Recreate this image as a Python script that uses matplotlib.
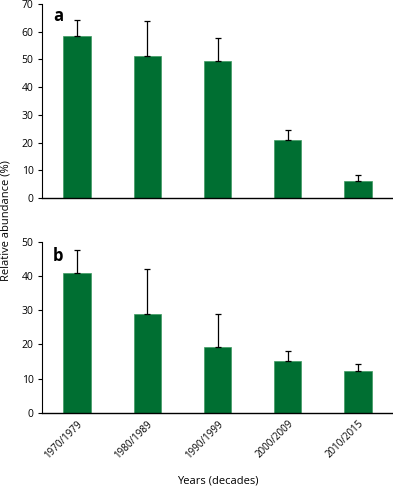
import numpy as np
import matplotlib.pyplot as plt

decades = ['1970/1979', '1980/1989', '1990/1999', '2000/2009', '2010/2015']
vals_a = [58.4, 51.4, 49.5, 20.8, 6.2]
err_a = [5.9, 12.3, 8.3, 3.6, 2.2]
vals_b = [41.0, 29.0, 19.2, 15.3, 12.3]
err_b = [6.5, 13.1, 9.7, 2.9, 1.9]

green = '#006F32'
plt.rcParams['font.family'] = ['Open Sans', 'DejaVu Sans']

fig = plt.figure(figsize=(3.93, 4.86), dpi=100)
ax1 = fig.add_axes([42 / 393, 0.5926, 1 - 42 / 393, 0.3992])
ax2 = fig.add_axes([42 / 393, 0.1502, 1 - 42 / 393, 0.3525])

x = np.arange(len(decades))
for ax, v, e, top, step, lab in [(ax1, vals_a, err_a, 70, 10, 'a'), (ax2, vals_b, err_b, 50, 10, 'b')]:
    ax.bar(x, v, width=0.39, color=green, edgecolor='#3d9a60', linewidth=0.5)
    ax.errorbar(x, v, yerr=[np.zeros(len(v)), e], fmt='none', ecolor='black',
                elinewidth=0.9, capsize=2.5, capthick=0.9)
    ax.set_xlim(-0.5, 4.5)
    ax.set_ylim(0, top)
    ax.set_yticks(np.arange(0, top + 1, step))
    ax.tick_params(axis='y', labelsize=7.5, length=3, width=0.8, direction='out', pad=3)
    ax.spines['top'].set_visible(False)
    ax.spines['right'].set_visible(False)
    ax.spines['left'].set_linewidth(0.8)
    ax.spines['bottom'].set_linewidth(1.0)
    ax.text(0.032, 0.985 if lab == 'a' else 0.97, lab, transform=ax.transAxes,
            fontsize=12, fontweight='bold', va='top', ha='left')

ax1.set_xticks([])
ax2.set_xticks(x)
ax2.set_xticklabels(decades, rotation=45, ha='right', rotation_mode='anchor', fontsize=7)
ax2.tick_params(axis='x', length=0, pad=4)
ax2.set_xlabel('Years (decades)', fontsize=8, labelpad=11)
fig.text(0.016, 0.547, 'Relative abundance (%)', rotation=90, ha='center', va='center', fontsize=8)

fig.savefig('out.png', dpi=100)
